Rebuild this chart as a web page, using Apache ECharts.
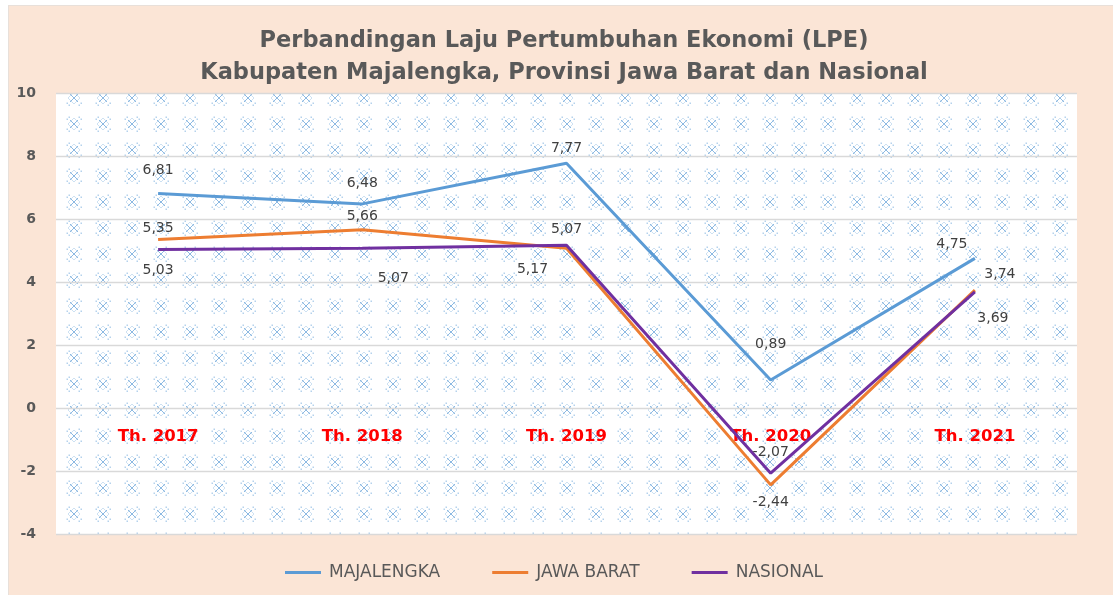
<!DOCTYPE html>
<html>
<head>
<meta charset="utf-8">
<script src="https://cdn.jsdelivr.net/npm/echarts@6/dist/echarts.min.js"></script>
<style>
html,body{margin:0;padding:0;background:#ffffff;width:1113px;height:595px;overflow:hidden;}
#chart{position:absolute;left:8px;top:5px;width:1105px;height:590px;background:#FBE5D6;box-sizing:border-box;border-left:1px solid #E8E0DA;border-top:1px solid #E8E0DA;}
</style>
</head>
<body>
<div id="chart"></div>
<script>
// ---- data ----
const categories = ["Th. 2017", "Th. 2018", "Th. 2019", "Th. 2020", "Th. 2021"];
const majalengka = [6.81, 6.48, 7.77, 0.89, 4.75];
const jawaBarat = [5.35, 5.66, 5.07, -2.44, 3.74];
const nasional = [5.03, 5.07, 5.17, -2.07, 3.69];
const seriesNames = ["MAJALENGKA", "JAWA BARAT", "NASIONAL"];
const yTicks = [-4, -2, 0, 2, 4, 6, 8, 10];

// ---- label placement (style only) ----
const placeMaj = [["top", 0, -8], ["top", 0, -5], ["top", 0, 0], ["top", 0, -21], ["top", -23, 1]];
const placeJabar = [["top", 0, 4], ["top", 0, 2], ["top", 0, -4], ["bottom", 0, 2], ["top", 25, -1]];
const placeNas = [["bottom", 0, 6], ["bottom", 31, 15], ["bottom", -34, 9], ["top", 0, -6], ["bottom", 18, 12]];

function labelFmt(v) { return v.toFixed(2).replace(".", ","); }

function buildData(values, places) {
  return values.map(function (v, i) {
    return { value: v, label: { position: places[i][0], offset: [places[i][1], places[i][2]] } };
  });
}

// ---- pattern tile ----
function makeTile() {
  const c = document.createElement("canvas");
  c.width = 29; c.height = 26;
  const g = c.getContext("2d");
  g.fillStyle = "#ffffff";
  g.fillRect(0, 0, 29, 26);
  const cx = 7, cy = 14;
  function motif(x, y) {
    g.strokeStyle = "rgba(91,155,213,0.7)";
    g.lineWidth = 1;
    g.beginPath();
    g.moveTo(x - 4, y - 4); g.lineTo(x + 4, y + 4);
    g.moveTo(x + 4, y - 4); g.lineTo(x - 4, y + 4);
    g.stroke();
    g.strokeStyle = "rgba(91,155,213,0.3)";
    g.beginPath();
    g.moveTo(x, y - 6); g.lineTo(x + 6, y); g.lineTo(x, y + 6); g.lineTo(x - 6, y); g.closePath();
    g.stroke();
    g.fillStyle = "rgba(91,155,213,0.45)";
    [[-5,-7],[5,-7],[-5,7],[5,7],[-7,-5],[7,-5],[-7,5],[7,5]].forEach(function(p){ g.fillRect(x + p[0] - 0.5, y + p[1] - 0.5, 1.5, 1.5); });
  }
  [[0,0],[29,0],[-29,0],[0,26],[0,-26],[29,26],[-29,-26],[29,-26],[-29,26]].forEach(function(o){ motif(cx + o[0], cy + o[1]); });
  return c;
}

const chart = echarts.init(document.getElementById("chart"), null, { renderer: "canvas" });
const colors = ["#5B9BD5", "#ED7D31", "#7030A0"];

const option = {
  animation: false,
  backgroundColor: "transparent",
  color: colors,
  title: {
    text: "Perbandingan Laju Pertumbuhan Ekonomi (LPE)\nKabupaten Majalengka, Provinsi Jawa Barat dan Nasional",
    left: 550,
    top: 14,
    textAlign: "center",
    textStyle: { fontFamily: "DejaVu Sans", fontWeight: "bold", fontSize: 22.5, color: "#595959", lineHeight: 32 }
  },
  legend: {
    left: 271,
    top: 553,
    itemWidth: 36,
    itemHeight: 14,
    itemGap: 52,
    icon: "path://M0,6 L36,6 L36,9 L0,9 Z",
    data: seriesNames,
    textStyle: { fontFamily: "DejaVu Sans", fontSize: 17, color: "#595959", padding: [0, 0, 0, 3] }
  },
  grid: {
    left: 47, top: 87, width: 1021, height: 441,
    show: true,
    borderWidth: 0,
    backgroundColor: { image: makeTile(), repeat: "repeat" }
  },
  xAxis: {
    type: "category",
    data: categories,
    boundaryGap: true,
    axisLine: { show: false, onZero: false },
    axisTick: { show: false },
    axisLabel: { color: "#FF0000", fontWeight: "bold", fontSize: 16.5, fontFamily: "DejaVu Sans", margin: -106 },
    splitLine: { show: false }
  },
  yAxis: {
    type: "value",
    min: yTicks[0],
    max: yTicks[yTicks.length - 1],
    interval: 2,
    axisLine: { show: false },
    axisTick: { show: false },
    axisLabel: { color: "#595959", fontSize: 14, fontWeight: "bold", fontFamily: "DejaVu Sans", margin: 20 },
    splitLine: { show: true, lineStyle: { color: "#D9D9D9", width: 1.3 } }
  },
  series: [
    { name: seriesNames[0], data: buildData(majalengka, placeMaj) },
    { name: seriesNames[1], data: buildData(jawaBarat, placeJabar) },
    { name: seriesNames[2], data: buildData(nasional, placeNas) }
  ].map(function (s, i) {
    return Object.assign({
      type: "line",
      symbol: "circle",
      symbolSize: 0.1,
      showSymbol: true,
      lineStyle: { width: 3, color: colors[i] },
      itemStyle: { color: colors[i] },
      label: {
        show: true,
        formatter: function (p) { return labelFmt(p.value); },
        color: "#404040",
        fontSize: 14,
        fontFamily: "DejaVu Sans",
        distance: 8
      }
    }, s);
  })
};
chart.setOption(option);
</script>
</body>
</html>
